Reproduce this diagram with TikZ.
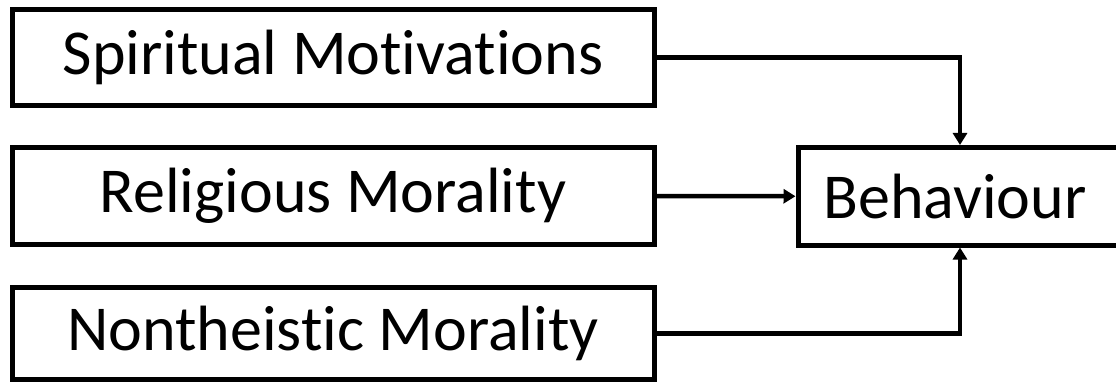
\documentclass[tikz,border=0pt]{standalone}
\usepackage{fontspec}
\setmainfont{Carlito}[Ligatures=CommonOff]
\usetikzlibrary{arrows.meta}
\begin{document}
\begin{tikzpicture}[x=1pt,y=-1pt,
  box/.style={draw=black,line width=5pt,minimum width=642pt,inner sep=0pt,
    font=\fontsize{64}{76}\selectfont},
  conn/.style={line width=4.5pt,-{Triangle[length=12pt,width=14pt]}}]
\useasboundingbox (0,0) rectangle (1116,382);
\clip (0,0) rectangle (1116,382);
\node[box,minimum height=95.5pt] (s) at (333,57.75) {Spiritual Motivations};
\node[box,minimum height=97pt] (r) at (333,196) {Religious Morality};
\node[box,minimum height=92pt] (n) at (333,333.5) {Nontheistic Morality};
\node[box,minimum width=324pt,minimum height=97.5pt] (b) at (960,196.25) {\hspace{-10pt}Behaviour};
\draw[conn] (s.east) -| (b.north);
\draw[conn] (r.east) -- (b.west);
\draw[conn] (n.east) -| (b.south);
\end{tikzpicture}
\end{document}
